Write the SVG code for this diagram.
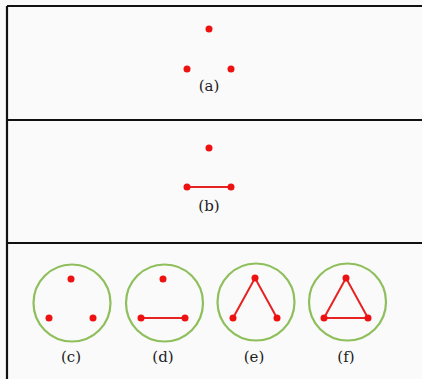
<svg xmlns="http://www.w3.org/2000/svg" width="422" height="379" viewBox="0 0 422 379">
<style>
.frame{stroke:#111;stroke-width:2.2;fill:none}
.dot{fill:#ee1111}
.edge{stroke:#e62222;stroke-width:2;fill:none}
.ring{stroke:#8fbf5c;stroke-width:2.2;fill:none}
.lbl{font-family:"DejaVu Serif","Liberation Serif",serif;font-size:15px;fill:#222;text-anchor:middle}
</style>
<rect width="422" height="379" fill="#fafafa"/>
<g id="frame">
<line class="frame" x1="7" y1="6" x2="422" y2="6"/>
<line class="frame" x1="7" y1="6" x2="7" y2="379"/>
<line class="frame" x1="7" y1="120" x2="422" y2="120"/>
<line class="frame" x1="7" y1="243" x2="422" y2="243"/>
</g>
<g id="connectors">
<line class="edge" x1="187" y1="187" x2="231" y2="187"/>
<line class="edge" x1="141" y1="318" x2="185" y2="318"/>
<polyline class="edge" points="233,318 255,278 277,318"/>
<polygon class="edge" points="324,318 346,278 368,318"/>
</g>
<g id="panel-a">
<circle class="dot" cx="209" cy="29" r="3.5"/>
<circle class="dot" cx="187" cy="69" r="3.5"/>
<circle class="dot" cx="231" cy="69" r="3.5"/>
<text class="lbl" x="209" y="91">(a)</text>
</g>
<g id="panel-b">
<circle class="dot" cx="209" cy="148" r="3.5"/>
<circle class="dot" cx="187" cy="187" r="3.5"/>
<circle class="dot" cx="231" cy="187" r="3.5"/>
<text class="lbl" x="209" y="211">(b)</text>
</g>
<g id="panel-c">
<circle class="ring" cx="72" cy="303" r="38.5"/>
<circle class="dot" cx="71" cy="279" r="3.5"/>
<circle class="dot" cx="49" cy="318" r="3.5"/>
<circle class="dot" cx="93" cy="318" r="3.5"/>
<text class="lbl" x="71" y="362">(c)</text>
</g>
<g id="panel-d">
<circle class="ring" cx="164.5" cy="303" r="38.5"/>
<circle class="dot" cx="163" cy="279" r="3.5"/>
<circle class="dot" cx="141" cy="318" r="3.5"/>
<circle class="dot" cx="185" cy="318" r="3.5"/>
<text class="lbl" x="163" y="362">(d)</text>
</g>
<g id="panel-e">
<circle class="ring" cx="256" cy="302" r="38.5"/>
<circle class="dot" cx="255" cy="278" r="3.5"/>
<circle class="dot" cx="233" cy="318" r="3.5"/>
<circle class="dot" cx="277" cy="318" r="3.5"/>
<text class="lbl" x="254" y="362">(e)</text>
</g>
<g id="panel-f">
<circle class="ring" cx="347.5" cy="302" r="38.5"/>
<circle class="dot" cx="346" cy="278" r="3.5"/>
<circle class="dot" cx="324" cy="318" r="3.5"/>
<circle class="dot" cx="368" cy="318" r="3.5"/>
<text class="lbl" x="346" y="362">(f)</text>
</g>
</svg>
